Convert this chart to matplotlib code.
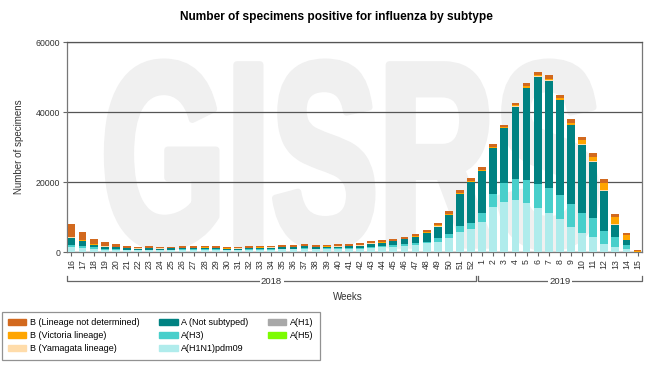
import matplotlib
matplotlib.use("Agg")
import matplotlib.pyplot as plt
import matplotlib.patches as mpatches
from matplotlib.textpath import TextPath
from matplotlib.font_manager import FontProperties
from matplotlib.transforms import Affine2D, blended_transform_factory
import numpy as np

plt.rcParams['font.family'] = ['Liberation Sans', 'DejaVu Sans']

# week labels: 2018 wk16-52, 2019 wk1-15
weeks = [str(w) for w in range(16, 53)] + [str(w) for w in range(1, 16)]

# values (specimens per week)
h1n1 = [1330, 1050, 860, 570, 500, 480, 500, 560, 520, 540, 580, 600, 650, 620, 500, 540,
        620, 660, 700, 780, 780, 950, 780, 820, 900, 900, 980, 1200, 1300, 1500, 1750, 2000,
        2480, 2950, 3900, 5710, 6670,
        8570, 12950, 14380, 14860, 14100, 12670, 11240, 9520, 7240, 5520, 4190, 2380, 1520, 760, 30]
h3 = [670, 670, 480, 300, 300, 150, 150, 150, 150, 150, 160, 160, 170, 160, 140, 150,
      170, 180, 190, 200, 200, 230, 200, 210, 230, 250, 280, 330, 350, 400, 450, 480,
      480, 950, 1240, 1810, 1710,
      2480, 3620, 5240, 6000, 6480, 6760, 6950, 6760, 6480, 5710, 5620, 3710, 2670, 1140, 20]
a_not = [2100, 1430, 670, 670, 560, 450, 350, 350, 330, 320, 330, 320, 330, 310, 260, 280,
         300, 310, 330, 380, 380, 450, 370, 390, 430, 450, 520, 850, 950, 1150, 1400, 1800,
         2380, 3330, 5430, 9050, 11520,
         12100, 13140, 15710, 20670, 26290, 30670, 30760, 27140, 22570, 19430, 16000, 11430, 3620, 1520, 30]
h1 = [0] * 52
h5 = [0] * 52
b_yam = [100, 100, 100, 100, 80, 60, 60, 60, 60, 60, 60, 60, 70, 70, 60, 60,
         70, 70, 70, 80, 80, 90, 80, 80, 80, 80, 80, 80, 80, 80, 90, 90,
         100, 100, 100, 100, 100,
         100, 100, 100, 100, 100, 100, 100, 100, 100, 100, 100, 100, 100, 100, 20]
b_vic = [200, 200, 170, 170, 100, 80, 80, 80, 80, 80, 90, 90, 90, 90, 80, 80,
         90, 100, 100, 110, 110, 130, 110, 110, 120, 110, 110, 130, 130, 140, 140, 150,
         200, 250, 300, 300, 300,
         300, 300, 250, 300, 350, 300, 400, 450, 550, 1150, 1300, 2000, 2100, 1430, 120]
b_nd = [3500, 2260, 1430, 950, 840, 490, 380, 420, 380, 370, 400, 390, 400, 370, 290, 320,
        370, 390, 420, 450, 450, 530, 460, 490, 530, 500, 510, 550, 520, 540, 550, 530,
        650, 710, 840, 740, 750,
        740, 750, 610, 740, 870, 830, 1030, 980, 960, 850, 980, 1240, 850, 480, 260]

series = [
    ("A(H1N1)pdm09", h1n1, "#b0ecec"),
    ("A(H3)", h3, "#48cfcb"),
    ("A (Not subtyped)", a_not, "#008282"),
    ("A(H1)", h1, "#a8a8a8"),
    ("A(H5)", h5, "#7cfc00"),
    ("B (Yamagata lineage)", b_yam, "#ffdcaa"),
    ("B (Victoria lineage)", b_vic, "#ffa500"),
    ("B (Lineage not determined)", b_nd, "#d2691e"),
]

fig = plt.figure(figsize=(6.72, 3.77), dpi=100)
ax = fig.add_axes([67/672, 1-252/377, 575/672, 210/377])

x = np.arange(len(weeks))

# GISRS watermark, stretched to fit behind the bars
tp = TextPath((0, 0), "GISRS", prop=FontProperties(family="Liberation Sans", weight="bold"))
bb = tp.get_extents()
x0, x1, y0, y1 = 0.07, 0.92, 0.02, 0.905
tr = Affine2D().translate(-bb.x0, -bb.y0).scale((x1-x0)/bb.width, (y1-y0)/bb.height).translate(x0, y0)
ax.add_patch(mpatches.PathPatch(tr.transform_path(tp), transform=ax.transAxes,
                                facecolor="#f0f0f0", edgecolor="#f0f0f0", linewidth=5,
                                joinstyle="round", zorder=0))

bottom = np.zeros(len(weeks))
handles = {}
for name, vals, col in series:
    vals = np.array(vals, dtype=float)
    ax.bar(x, vals, 0.7, bottom=bottom, color=col, zorder=3, label=name)
    handles[name] = mpatches.Patch(color=col, label=name)
    bottom += vals

ax.set_xlim(-0.4, 51.4)
ax.set_ylim(0, 60000)
ax.set_yticks([0, 20000, 40000, 60000])
ax.set_yticklabels(["0", "20000", "40000", "60000"], fontsize=6.3, color="#333333")
ax.set_xticks(x)
ax.set_xticklabels(weeks, rotation=90, fontsize=6.3, color="#333333")
ax.tick_params(axis="both", length=3, color="#666666", width=0.8, pad=2)
ax.yaxis.grid(True, color="#555555", linewidth=0.9, zorder=1)
ax.set_axisbelow(True)
for s in ax.spines.values():
    s.set_color("#777777")
    s.set_linewidth(0.9)
ax.spines["top"].set_color("#555555")

ax.set_ylabel("Number of specimens", fontsize=7, color="#333333", labelpad=8)
fig.text(0.5, 1-17/377, "Number of specimens positive for influenza by subtype",
         ha="center", va="center", fontsize=8.6, fontweight="bold")

# year brackets under the week labels
btr = blended_transform_factory(ax.transData, ax.transAxes)
yl = (252-281)/210
yt = (252-276)/210
for lo, hi, lab in [(-0.4, 36.45, "2018"), (36.6, 51.4, "2019")]:
    ax.plot([lo, lo, hi, hi], [yt, yl, yl, yt], transform=btr, color="#666666",
            lw=0.9, clip_on=False)
    ax.text((lo+hi)/2, yl, lab, transform=btr, ha="center", va="center", fontsize=6.8,
            color="#333333", bbox=dict(facecolor="white", edgecolor="none", pad=1))
fig.text(348/672, 1-297/377, "Weeks", ha="center", va="center", fontsize=7, color="#333333")

order = ["B (Lineage not determined)", "B (Victoria lineage)", "B (Yamagata lineage)",
         "A (Not subtyped)", "A(H3)", "A(H1N1)pdm09", "A(H1)", "A(H5)"]
leg = fig.legend([handles[n] for n in order], order, loc="upper left",
                 bbox_to_anchor=(2/672, 1-312/377), ncol=3, fontsize=6.5,
                 frameon=True, fancybox=False, borderaxespad=0, handlelength=2.0,
                 handleheight=0.6, labelspacing=0.45, columnspacing=2.2,
                 handletextpad=0.4, borderpad=0.7)
leg.get_frame().set_edgecolor("#777777")
leg.get_frame().set_linewidth(0.9)

fig.savefig("out.png", dpi=100)
